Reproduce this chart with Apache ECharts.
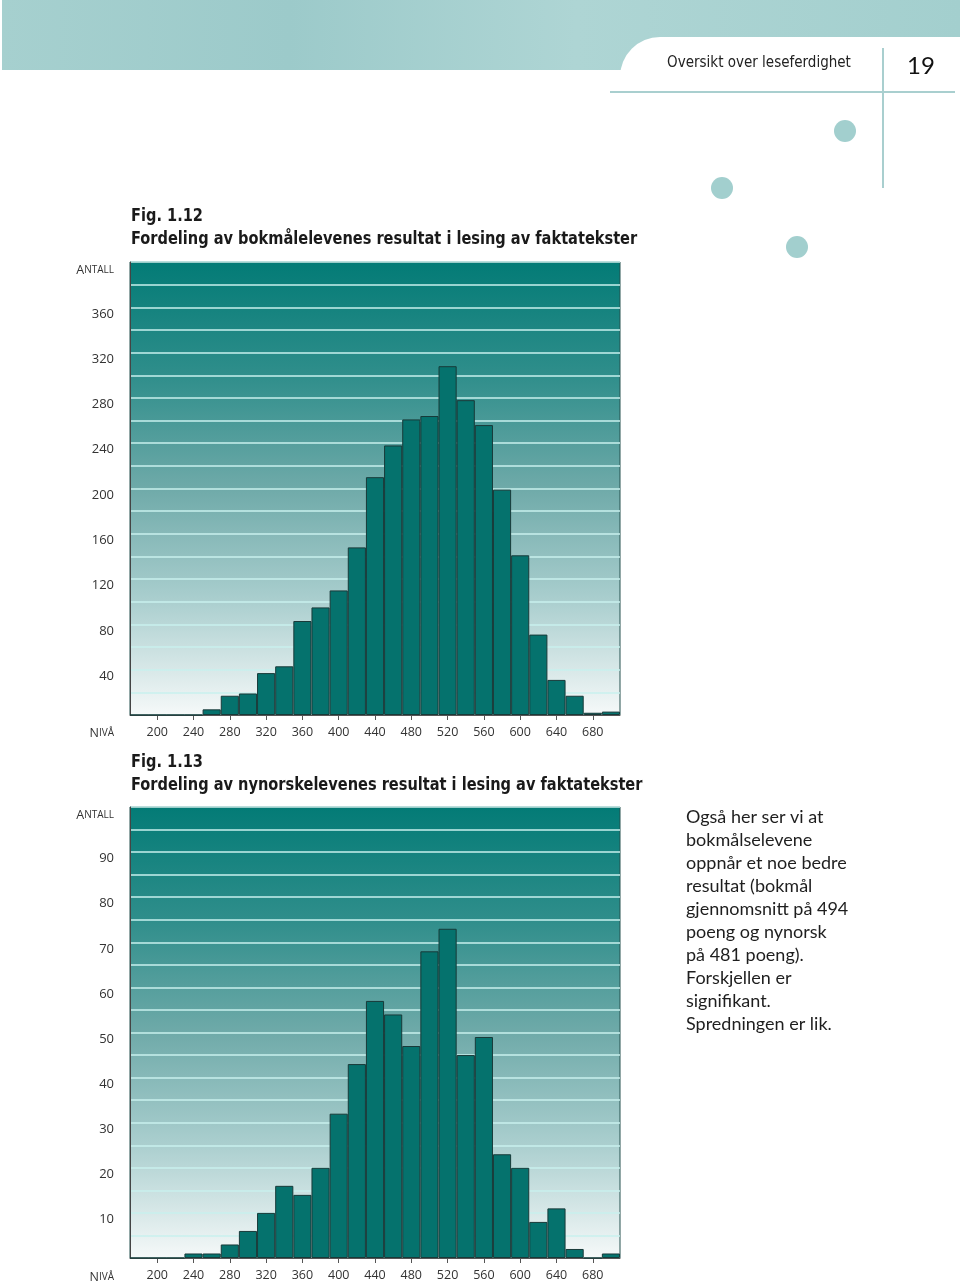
<!DOCTYPE html>
<html>
<head>
<meta charset="utf-8">
<script src="https://cdn.jsdelivr.net/npm/echarts@6/dist/echarts.min.js"></script>
<style>
html,body{margin:0;padding:0;background:#fff;}
#c{width:960px;height:1282px;}
</style>
</head>
<body>
<div id="c"></div>
<script>
// ---- data ----
const bins = ['180','200','220','240','260','280','300','320','340','360','380','400','420','440','460','480','500','520','540','560','580','600','620','640','660','680','700'];
const xTickLabels = ['200','240','280','320','360','400','440','480','520','560','600','640','680'];
const bokmal  = [0,0,0,0,5,17,19,37,43,83,95,110,148,210,238,261,264,308,278,256,199,141,71,31,17,2,3];
const nynorsk = [0,0,0,1,1,3,6,10,16,14,20,32,43,57,54,47,68,73,45,49,23,20,8,11,2,0,1];
const yTicks1 = [40,80,120,160,200,240,280,320,360];
const yTicks2 = [10,20,30,40,50,60,70,80,90];

const title1a = 'Fig. 1.12';
const title1b = 'Fordeling av bokmålelevenes resultat i lesing av faktatekster';
const title2a = 'Fig. 1.13';
const title2b = 'Fordeling av nynorskelevenes resultat i lesing av faktatekster';
const sideText = ['Også her ser vi at','bokmålselevene','oppnår et noe bedre','resultat (bokmål','gjennomsnitt på 494','poeng og nynorsk','på 481 poeng).','Forskjellen er','signifikant.','Spredningen er lik.'];

const chart = echarts.init(document.getElementById('c'), null, {renderer:'canvas'});

const bg = {type:'linear',x:0,y:0,x2:0,y2:1,colorStops:[
  {offset:0,color:'#037b76'},
  {offset:0.25,color:'#2f8e8b'},
  {offset:0.5,color:'#6faaa9'},
  {offset:0.75,color:'#abcfcf'},
  {offset:1,color:'#f6f9f9'}]};

const NUMFONT = 'Open Sans';
function xAxisCfg(gi){
  return {
    type:'category', gridIndex:gi, data:bins,
    axisLine:{show:true,lineStyle:{color:'#555',width:1}},
    axisTick:{show:true,alignWithLabel:true,length:5,lineStyle:{color:'#555'},
      interval:(i,v)=>xTickLabels.indexOf(v)>=0},
    axisLabel:{interval:(i,v)=>xTickLabels.indexOf(v)>=0, color:'#333', fontSize:12.5,
      fontFamily:NUMFONT, margin:11},
    splitLine:{show:false}
  };
}
function yAxisCfg(gi,max,interval,ticks){
  return {
    type:'value', gridIndex:gi, min:0, max:max, interval:interval,
    axisLine:{show:true,lineStyle:{color:'#444',width:1}},
    axisTick:{show:false},
    axisLabel:{color:'#333',fontSize:13,fontFamily:NUMFONT,margin:16,verticalAlign:'top',
      formatter:v=>ticks.indexOf(v)>=0?String(v):''},
    splitLine:{show:true,lineStyle:{color:'#c8f0ee',width:1.5}}
  };
}
function barSeries(xi,data){
  return {type:'bar',xAxisIndex:xi,yAxisIndex:xi,data:data,barCategoryGap:'0%',
    itemStyle:{color:'#05726d',borderColor:'#183a39',borderWidth:1},
    emphasis:{disabled:true},silent:true,z:3};
}

const smallCaps = (first,rest,x,y)=>({
  type:'text', x:x, y:y,
  style:{text:'{a|'+first+'}{b|'+rest+'}', align:'right', verticalAlign:'middle',
    rich:{a:{fontSize:12.5,fontFamily:NUMFONT,fill:'#333'},b:{fontSize:10,fontFamily:NUMFONT,fill:'#333'}}}
});

const TFONT = '"DejaVu Sans Condensed","DejaVu Sans",sans-serif';
const titleText = (t,y)=>({type:'text',x:131,y:y,scaleX:0.9,
  style:{text:t,verticalAlign:'middle',fontSize:18,fontWeight:'bold',fontFamily:TFONT,fill:'#1a1a1a'}});
const graphics = [
  // banner
  {type:'rect',shape:{x:2,y:0,width:958,height:70},style:{fill:{type:'linear',x:0,y:0,x2:1,y2:0.3,colorStops:[
    {offset:0,color:'#a6d0cf'},{offset:0.3,color:'#9ccaca'},{offset:0.6,color:'#aed5d4'},{offset:1,color:'#a3cfce'}]}}},
  {type:'rect',shape:{x:620,y:37,width:340,height:40,r:[40,0,0,0]},style:{fill:'#fff'}},
  {type:'line',shape:{x1:610,y1:92,x2:955,y2:92},style:{stroke:'#a9cfcf',lineWidth:2}},
  {type:'line',shape:{x1:883,y1:48,x2:883,y2:188},style:{stroke:'#a9cfcf',lineWidth:2}},
  {type:'text',x:759,y:63,style:{text:'Oversikt over leseferdighet',align:'center',verticalAlign:'middle',
    fontSize:15,fontFamily:TFONT,fill:'#222'}},
  {type:'text',x:921,y:66,style:{text:'19',align:'center',verticalAlign:'middle',
    fontSize:24,fontFamily:'Lato',fill:'#111'}},
  {type:'circle',shape:{cx:845,cy:131,r:11},style:{fill:'#a2cfce'}},
  {type:'circle',shape:{cx:722,cy:188,r:11},style:{fill:'#a2cfce'}},
  {type:'circle',shape:{cx:797,cy:247,r:11},style:{fill:'#a2cfce'}},
  // titles
  titleText(title1a,216), titleText(title1b,239),
  titleText(title2a,762), titleText(title2b,785),
  smallCaps('A','NTALL',114,270),
  smallCaps('N','IVÅ',114,733),
  smallCaps('A','NTALL',114,815),
  smallCaps('N','IVÅ',114,1277),
  {type:'text',x:686,y:806,style:{text:sideText.join('\n'),lineHeight:23,fontSize:18,fontFamily:'Lato',fill:'#1e1e1e'}}
];

chart.setOption({
  animation:false,
  backgroundColor:'#fff',
  grid:[
    {left:130,top:262,width:490,height:453,show:true,backgroundColor:bg,borderColor:'#24504e',borderWidth:1},
    {left:130,top:807,width:490,height:453,show:true,backgroundColor:bg,borderColor:'#24504e',borderWidth:1}
  ],
  xAxis:[xAxisCfg(0),xAxisCfg(1)],
  yAxis:[yAxisCfg(0,400,20,yTicks1),yAxisCfg(1,100,5,yTicks2)],
  series:[barSeries(0,bokmal),barSeries(1,nynorsk)],
  graphic:graphics
});
</script>
</body>
</html>
